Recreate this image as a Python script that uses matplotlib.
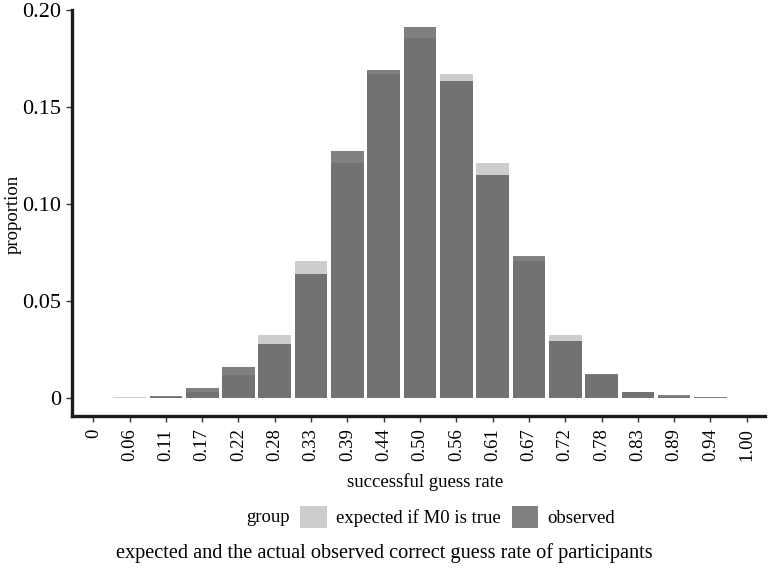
import matplotlib.pyplot as plt
from matplotlib.patches import Patch

# %%
rate_labels = ["0", "0.06", "0.11", "0.17", "0.22", "0.28", "0.33", "0.39", "0.44", "0.50",
               "0.56", "0.61", "0.67", "0.72", "0.78", "0.83", "0.89", "0.94", "1.00"]

expected = [0.0000, 0.0003, 0.0006, 0.0031, 0.0117, 0.0327, 0.0708, 0.1214, 0.1669, 0.1855,
            0.1669, 0.1214, 0.0708, 0.0327, 0.0117, 0.0031, 0.0006, 0.0002, 0.0000]
observed = [0.0000, 0.0000, 0.0008, 0.0050, 0.0159, 0.0278, 0.0639, 0.1272, 0.1691, 0.1913,
            0.1634, 0.1149, 0.0730, 0.0292, 0.0121, 0.0031, 0.0017, 0.0003, 0.0000]

y_ticks = [0, 0.05, 0.10, 0.15, 0.20]
y_tick_labels = ["0", "0.05", "0.10", "0.15", "0.20"]

# %%
plt.rcParams['font.family'] = ['Liberation Serif', 'DejaVu Serif']
plt.rcParams['font.size'] = 13.5

light = "#cdcdcd"
dark = "#515151"
dark_alpha = 0.73

fig = plt.figure(figsize=(7.68, 5.69), dpi=100)
ax = fig.add_axes([0.094, 0.269, 0.902, 0.713])

ax.bar(rate_labels, expected, width=0.9, color=light, edgecolor="none")
ax.bar(rate_labels, observed, width=0.9, color=dark, alpha=dark_alpha, edgecolor="none")

ax.set_xlim(-0.58, 18.5)
ax.set_ylim(-0.0093, 0.2)
ax.set_yticks(y_ticks)
ax.set_yticklabels(y_tick_labels, fontsize=16)
ax.tick_params(axis="x", labelrotation=90, labelsize=13.5, length=4, width=1, color="#333333", pad=5)
ax.tick_params(axis="y", length=4, width=1, color="#333333", pad=4)

for side in ["top", "right"]:
    ax.spines[side].set_visible(False)
for side in ["left", "bottom"]:
    ax.spines[side].set_linewidth(2.4)
    ax.spines[side].set_color("#1a1a1a")

# y title placed by hand so it sits at the left edge like the original
fig.text(0.0175, 0.623, "proportion", rotation=90, ha="center", va="center")
ax.set_xlabel("successful guess rate")
ax.xaxis.set_label_coords(0.509, -0.14)

# legend: title on the left, keys in one row
fig.text(0.3496, 0.091, "group", ha="center", va="center")
handles = [Patch(facecolor=light, edgecolor="none"),
           Patch(facecolor=dark, alpha=dark_alpha, edgecolor="none")]
fig.legend(handles, ["expected if M0 is true", "observed"], ncol=2, frameon=False,
           loc="center", bbox_to_anchor=(0.596, 0.091),
           handlelength=1.39, handleheight=1.39, handletextpad=0.48, columnspacing=0.64)

fig.text(0.5, 0.028, "expected and the actual observed correct guess rate of participants",
         ha="center", va="center", fontsize=14.6)

fig.savefig("out.png", dpi=100)
